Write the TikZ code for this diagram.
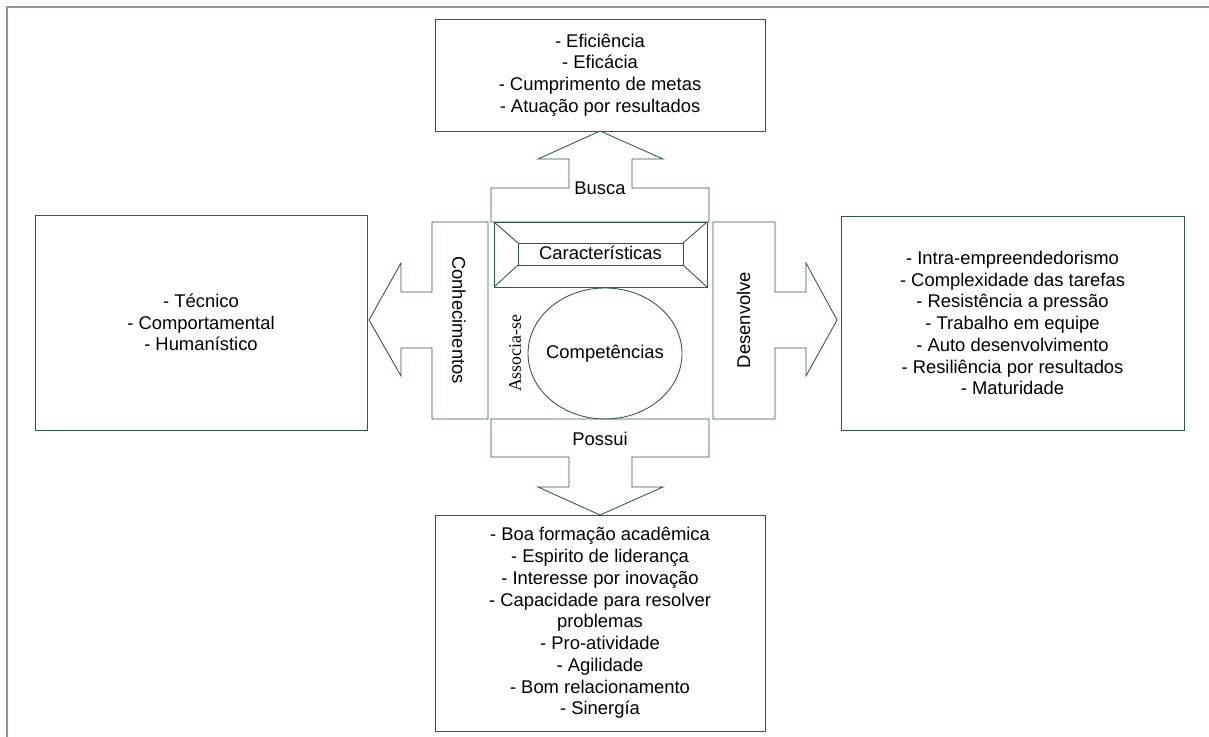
\documentclass[tikz,border=0pt]{standalone}
\usepackage{fontspec}
\setmainfont{Liberation Sans}
\newfontfamily\serifnote{Liberation Serif}
\usetikzlibrary{shapes.geometric}
\definecolor{lngreen}{HTML}{2E5B3C}
\definecolor{framegrey}{HTML}{869E90}
\tikzset{
  listbox/.style={draw=lngreen, line width=0.65pt, fill=white, inner sep=0pt,
                  align=center, font=\fontsize{13.8}{16.3}\selectfont},
  blockarr/.style={draw=lngreen, line width=0.65pt, fill=white, line join=miter},
  lbl/.style={inner sep=0pt, font=\fontsize{13.8}{16.3}\selectfont}}

\begin{document}
\begin{tikzpicture}[x=0.75pt, y=-0.75pt]
  \useasboundingbox (0,0) rectangle (1209,736);
  \draw[framegrey, line width=1.2pt] (7,760) -- (7,7) -- (1230,7);

  % four lists
  \node[listbox, minimum width=247.5pt, minimum height=84pt] (busca box) at (600,75)
    {- Eficiência\\- Eficácia\\- Cumprimento de metas\\- Atuação por resultados};
  \node[listbox, minimum width=249pt, minimum height=161.25pt] (conh box) at (201,322.5)
    {- Técnico\\- Comportamental\\- Humanístico};
  \node[listbox, minimum width=257.25pt, minimum height=160.5pt] (desenv box) at (1012.5,323)
    {- Intra-empreendedorismo\\- Complexidade das tarefas\\- Resistência a pressão\\
     - Trabalho em equipe\\- Auto desenvolvimento\\- Resiliência por resultados\\- Maturidade};
  \node[listbox, minimum width=247.5pt, minimum height=162pt] (possui box) at (600,623)
    {- Boa formação acadêmica\\- Espirito de liderança\\- Interesse por inovação\\
     - Capacidade para resolver\\problemas\\- Pro-atividade\\- Agilidade\\
     - Bom relacionamento\\- Sinergía};

  % block arrows
  \draw[blockarr] (491,222) -- (491,188) -- (569,188) -- (569,159) -- (538,159) -- (600,131)
    -- (663,159) -- (632,159) -- (632,188) -- (709,188) -- (709,222) -- cycle;
  \draw[blockarr] (488,222) -- (432,222) -- (432,292) -- (401,292) -- (401,263) -- (369,320)
    -- (401,376) -- (401,348) -- (432,348) -- (432,419) -- (488,419) -- cycle;
  \draw[blockarr] (713,222) -- (775,222) -- (775,292) -- (806,292) -- (806,263) -- (837,320)
    -- (806,376) -- (806,348) -- (775,348) -- (775,419) -- (713,419) -- cycle;
  \draw[blockarr] (491,419) -- (709,419) -- (709,457) -- (632,457) -- (632,487) -- (663,487)
    -- (600,515) -- (538,487) -- (569,487) -- (569,457) -- (491,457) -- cycle;

  % bevel frame and centre
  \draw[blockarr] (494,222) rectangle (707,287);
  \draw[blockarr] (518,243) rectangle (683,265);
  \draw[lngreen, line width=0.65pt] (494,222) -- (518,243) (707,222) -- (683,243)
    (494,287) -- (518,265) (707,287) -- (683,265);
  \node[ellipse, draw=lngreen, line width=0.65pt, minimum width=115.5pt,
        minimum height=98.25pt, inner sep=0pt] (compet) at (605,353.5) {};

  \node[lbl] (busca) at (600,188) {Busca};
  \node[lbl] (possui) at (600,439) {Possui};
  \node[lbl, rotate=-90] (conh) at (459,320) {Conhecimentos};
  \node[lbl, rotate=90] (desenv) at (743.5,320) {Desenvolve};
  \node[lbl] (caract) at (600.5,253) {Características};
  \node[lbl] (compet label) at (605,354) {Competências};
  \node[inner sep=0pt, rotate=90, font=\serifnote\fontsize{13.3}{16}\selectfont]
    (associa) at (515,353.5) {Associa-se};
\end{tikzpicture}
\end{document}
